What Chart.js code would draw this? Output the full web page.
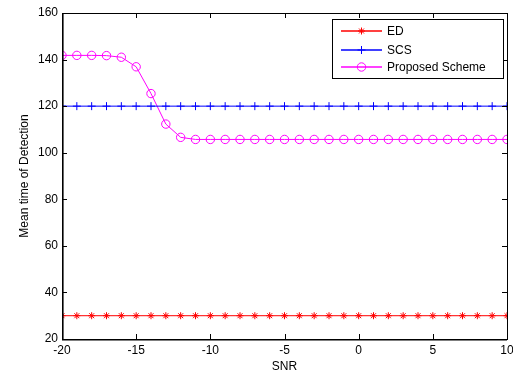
<!DOCTYPE html>
<html><head><meta charset="utf-8">
<script src="https://cdn.jsdelivr.net/npm/chart.js@4"></script>
<style>html,body{margin:0;padding:0;background:#fff}#wrap{width:513px;height:376px}</style>
</head><body><div id="wrap"><canvas id="c" width="513" height="376"></canvas></div>
<script>
const snr = [-20,-19,-18,-17,-16,-15,-14,-13,-12,-11,-10,-9,-8,-7,-6,-5,-4,-3,-2,-1,0,1,2,3,4,5,6,7,8,9,10];
const edValues = [30,30,30,30,30,30,30,30,30,30,30,30,30,30,30,30,30,30,30,30,30,30,30,30,30,30,30,30,30,30,30];
const scsValues = [120,120,120,120,120,120,120,120,120,120,120,120,120,120,120,120,120,120,120,120,120,120,120,120,120,120,120,120,120,120,120];
const proposedValues = [141.8,141.8,141.8,141.7,141.0,136.9,125.4,112.3,106.6,105.7,105.7,105.7,105.7,105.7,105.7,105.7,105.7,105.7,105.7,105.7,105.7,105.7,105.7,105.7,105.7,105.7,105.7,105.7,105.7,105.7,105.7];
const xTicks = [-20,-15,-10,-5,0,5,10];
const yTicks = [20,40,60,80,100,120,140,160];
const seriesNames = ['ED','SCS','Proposed Scheme'];

const FONT = 'Liberation Sans, Arial, sans-serif';

const frame = {
  id:'frame',
  afterDraw(chart){
    const ctx = chart.ctx, a = chart.chartArea;
    const xs = chart.scales.x, ys = chart.scales.y;
    ctx.save();
    ctx.strokeStyle = '#000'; ctx.lineWidth = 1;
    ctx.beginPath();
    xTicks.forEach(v=>{ const px = Math.round(xs.getPixelForValue(v))+0.5;
      ctx.moveTo(px,a.bottom); ctx.lineTo(px,a.bottom-5);
      ctx.moveTo(px,a.top); ctx.lineTo(px,a.top+5); });
    yTicks.forEach(v=>{ const py = Math.round(ys.getPixelForValue(v))+0.5;
      ctx.moveTo(a.left,py); ctx.lineTo(a.left+5,py);
      ctx.moveTo(a.right,py); ctx.lineTo(a.right-5,py); });
    ctx.stroke();
    ctx.lineWidth = 1;
    ctx.strokeRect(Math.round(a.left)+0.5, Math.round(a.top)+0.5, Math.round(a.right-a.left), Math.round(a.bottom-a.top));
    ctx.lineWidth = 1.6;
    ctx.beginPath(); ctx.moveTo(a.left+0.8,a.top); ctx.lineTo(a.left+0.8,a.bottom+0.8); ctx.lineTo(a.right,a.bottom+0.8); ctx.stroke();
    // legend
    const bx = 332, by = 19, bw = 171, bh = 59;
    ctx.fillStyle = '#fff'; ctx.fillRect(bx,by,bw,bh);
    ctx.lineWidth = 1; ctx.strokeStyle = '#000';
    ctx.strokeRect(bx+0.5,by+0.5,bw,bh);
    const rows = [31,50,67];
    chart.data.datasets.forEach((ds,i)=>{
      const y = rows[i];
      ctx.strokeStyle = ds.borderColor; ctx.lineWidth = 1.3;
      ctx.beginPath(); ctx.moveTo(341,y); ctx.lineTo(382,y); ctx.stroke();
      ctx.lineWidth = 1;
      ctx.strokeStyle = ds.pointBorderColor;
      ctx.fillStyle = ds.pointBackgroundColor;
      Chart.helpers.drawPoint(ctx, {pointStyle: ds.pointStyle, radius: ds.pointRadius, borderWidth: 1, rotation:0}, 361.5, y);
      ctx.fillStyle = '#000'; ctx.font = '12px ' + FONT; ctx.textBaseline = 'middle'; ctx.textAlign='left';
      ctx.fillText(ds.label, 387, y+1);
    });
    ctx.restore();
  }
};

function mk(label, data, color, style, r){
  return { label, data: snr.map((x,i)=>({x, y:data[i]})), borderColor: color, backgroundColor: 'transparent',
    pointBorderColor: color, pointBackgroundColor: style==='circle'?'rgba(0,0,0,0)':color, pointStyle: style,
    pointRadius: r, pointBorderWidth: 1, borderWidth: 1, tension: 0, showLine: true };
}

new Chart(document.getElementById('c'), {
  type: 'scatter',
  data: { datasets: [
    mk(seriesNames[0], edValues, '#ff0000', 'star', 3.5),
    mk(seriesNames[1], scsValues, '#0000ff', 'cross', 4),
    mk(seriesNames[2], proposedValues, '#ff00ff', 'circle', 4.2)
  ]},
  options: {
    responsive: false, animation: false, devicePixelRatio: 1,
    layout: { padding: { top: 13, right: 6, left: 0, bottom: 0 } },
    plugins: { legend: { display: false }, tooltip: { enabled: false } },
    scales: {
      x: { type: 'linear', min: -20, max: 10,
        afterBuildTicks(s){ s.ticks = xTicks.map(v=>({value:v})); },
        afterFit(s){ s.height = 37; s.paddingLeft = 0; s.paddingRight = 0; },
        grid: { display: false, drawTicks: false }, border: { display: false },
        ticks: { color: '#000', font: { family: FONT, size: 12 }, padding: 4, maxRotation: 0 },
        title: { display: true, text: 'SNR', color: '#000', font: { family: FONT, size: 12 }, padding: { top: 0, bottom: 2 } } },
      y: { type: 'linear', min: 20, max: 160,
        afterBuildTicks(s){ s.ticks = yTicks.map(v=>({value:v})); },
        afterFit(s){ s.width = 62; s.paddingTop = 0; s.paddingBottom = 0; },
        grid: { display: false, drawTicks: false }, border: { display: false },
        ticks: { color: '#000', font: { family: FONT, size: 12 }, padding: 4 },
        title: { display: true, text: 'Mean time of Detection', color: '#000', font: { family: FONT, size: 12 }, padding: { top: 17, bottom: 4 } } }
    }
  },
  plugins: [frame]
});
</script></body></html>
